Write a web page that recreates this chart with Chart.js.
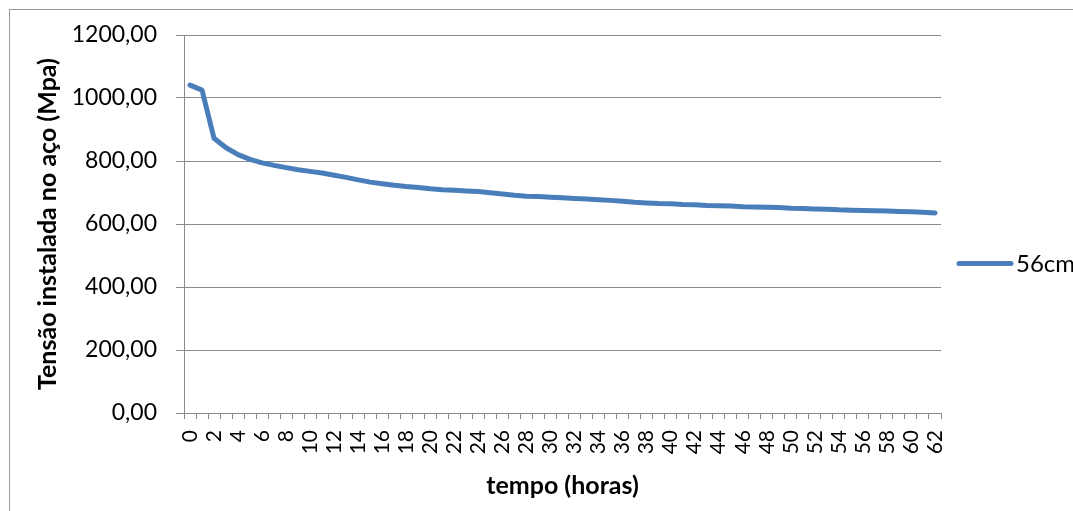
<!DOCTYPE html>
<html>
<head>
<meta charset="utf-8">
<script src="https://cdn.jsdelivr.net/npm/chart.js@4/dist/chart.umd.min.js"></script>
<style>
  html, body { margin: 0; padding: 0; background: #ffffff; }
  #wrap { width: 1073px; height: 511px; position: relative; }
</style>
</head>
<body>
<div id="wrap"><canvas id="chart"></canvas></div>
<script>
// Hours since tensioning (0 .. 62)
const horas = [
  0, 1, 2, 3, 4, 5, 6, 7, 8, 9,
  10, 11, 12, 13, 14, 15, 16, 17, 18, 19,
  20, 21, 22, 23, 24, 25, 26, 27, 28, 29,
  30, 31, 32, 33, 34, 35, 36, 37, 38, 39,
  40, 41, 42, 43, 44, 45, 46, 47, 48, 49,
  50, 51, 52, 53, 54, 55, 56, 57, 58, 59,
  60, 61, 62
];

// Steel stress (MPa), 56 cm specimen
const tensao56cm = [
  1041, 1025, 872, 842, 820, 805, 794, 786, 779, 772,
  767, 762, 755, 748, 740, 733, 728, 723, 719, 716,
  712, 709, 707, 705, 703, 699, 695, 691, 688, 687,
  685, 683, 681, 679, 677, 675, 672, 669, 667, 665,
  664, 662, 661, 659, 658, 657, 655, 654, 653, 652,
  650, 649, 648, 647, 645, 644, 643, 642, 641, 640,
  639, 637, 635
];

const serieNome = '56cm';
const eixoY = { min: 0, max: 1200, passo: 200 };

const FONT = 'Lato, "Open Sans", sans-serif';
const GRID = '#8a8a8a';
const LINE = '#4A7EBB';

// outer frame of the chart object
const framePlugin = {
  id: 'frame',
  beforeDraw(chart) {
    const ctx = chart.ctx;
    ctx.save();
    ctx.strokeStyle = '#9a9a9a';
    ctx.lineWidth = 1;
    ctx.strokeRect(9.5, 9.5, 1200, 700);
    ctx.restore();
  }
};

// single-entry legend at the right of the plot
const legendPlugin = {
  id: 'sideLegend',
  afterDraw(chart) {
    const ds = chart.data.datasets[0];
    const ctx = chart.ctx;
    const y = 263.5;
    ctx.save();
    ctx.strokeStyle = ds.borderColor;
    ctx.lineWidth = ds.borderWidth;
    ctx.lineCap = 'round';
    ctx.beginPath();
    ctx.moveTo(959, y);
    ctx.lineTo(1011, y);
    ctx.stroke();
    ctx.fillStyle = '#000000';
    ctx.font = '24px ' + FONT;
    ctx.textBaseline = 'middle';
    ctx.textAlign = 'left';
    ctx.fillText(ds.label, 1016, y + 1);
    ctx.restore();
  }
};

const fmt = v => v.toFixed(2).replace('.', ',');

new Chart(document.getElementById('chart'), {
  type: 'line',
  data: {
    labels: horas.map(String),
    datasets: [{
      label: serieNome,
      data: tensao56cm,
      borderColor: LINE,
      backgroundColor: LINE,
      borderWidth: 5,
      borderCapStyle: 'round',
      borderJoinStyle: 'round',
      pointRadius: 0,
      pointHoverRadius: 0,
      tension: 0,
      fill: false
    }]
  },
  options: {
    responsive: true,
    maintainAspectRatio: false,
    animation: false,
    events: [],
    layout: { padding: { left: 0, right: 132, top: 35, bottom: 0 } },
    plugins: {
      legend: { display: false },
      tooltip: { enabled: false }
    },
    scales: {
      x: {
        type: 'category',
        offset: true,
        grid: {
          display: true,
          offset: true,
          drawOnChartArea: false,
          drawTicks: true,
          tickLength: 6,
          color: GRID
        },
        border: { display: true, color: GRID, width: 1 },
        ticks: {
          autoSkip: false,
          minRotation: 90,
          maxRotation: 90,
          padding: 11,
          color: '#000000',
          font: { family: FONT, size: 21 },
          callback(value, index) {
            return index % 2 === 0 ? this.getLabelForValue(value) : '';
          }
        },
        title: {
          display: true,
          text: 'tempo (horas)',
          color: '#000000',
          font: { family: FONT, size: 25, weight: 'bold', lineHeight: 1.2 },
          padding: { top: 0, bottom: 10 }
        },
        afterFit(scale) { scale.height = 98; }
      },
      y: {
        min: eixoY.min,
        max: eixoY.max,
        grid: {
          display: true,
          color: GRID,
          drawTicks: true,
          tickLength: 8
        },
        border: { display: true, color: GRID, width: 1 },
        ticks: {
          stepSize: eixoY.passo,
          padding: 19,
          color: '#000000',
          font: { family: FONT, size: 23 },
          callback: v => fmt(v)
        },
        title: {
          display: true,
          text: 'Tensão instalada no aço (Mpa)',
          color: '#000000',
          font: { family: FONT, size: 25, weight: 'bold', lineHeight: 1.2 },
          padding: { top: 33, bottom: 0 }
        },
        afterFit(scale) { scale.width = 184; }
      }
    }
  },
  plugins: [framePlugin, legendPlugin]
});
</script>
</body>
</html>
